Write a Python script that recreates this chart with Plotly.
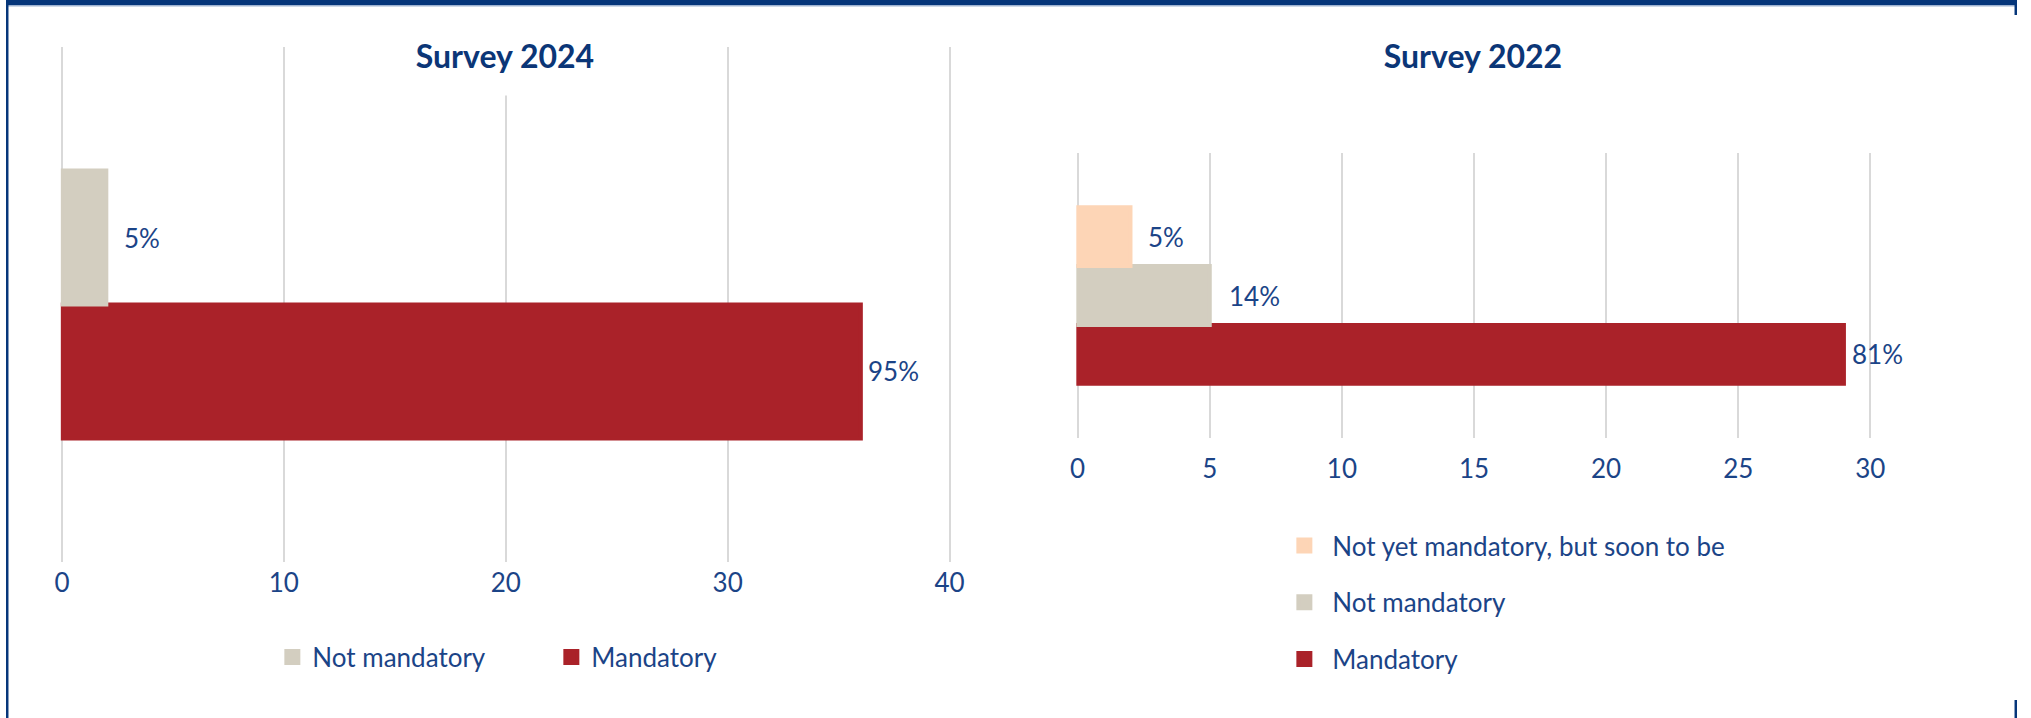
import plotly.graph_objects as go

W, H = 2031, 718

# ---- data -------------------------------------------------------------
# Survey 2024: number of respondents per answer, and the share shown
series_2024 = ["Not mandatory", "Mandatory"]
counts_2024 = [2, 36]
labels_2024 = ["5%", "95%"]
ticks_2024 = [0, 10, 20, 30, 40]

# Survey 2022
series_2022 = ["Not yet mandatory, but soon to be", "Not mandatory", "Mandatory"]
counts_2022 = [2, 5, 29]
labels_2022 = ["5%", "14%", "81%"]
ticks_2022 = [0, 5, 10, 15, 20, 25, 30]

# ---- style ------------------------------------------------------------
COLORS = {
    "Not yet mandatory, but soon to be": "#FDD5B6",
    "Not mandatory": "#D3CEC0",
    "Mandatory": "#AA2229",
}
NAVY = "#0B3677"
TEXT = "#1B4487"
GRID = "#D9D9D9"
FONT = "Lato"
BARGAP = 0.381
EDGE = 4  # same-colour outline, also enlarges the legend swatches


def fx(px):
    return px / W


def fy(px):
    return 1 - px / H


def group_centres(n):
    """Centre of each bar (bottom first) inside one category of a grouped bar."""
    width = (1 - BARGAP) / n
    return [-(1 - BARGAP) / 2 + (i + 0.5) * width for i in range(n)]


fig = go.Figure()


def add_panel(series, counts, labels, xa, ya, legend, shifts):
    n = len(series)
    # first trace sits at the bottom of the group, so draw from the bottom up
    order = list(range(n))[::-1]
    centres = group_centres(n)
    for slot, idx in enumerate(order):
        name = series[idx]
        fig.add_trace(go.Bar(
            x=[counts[idx]], y=["all"], orientation="h", name=name,
            marker=dict(color=COLORS[name], line=dict(width=EDGE, color=COLORS[name])),
            xaxis=xa, yaxis=ya, legend=legend, legendrank=idx + 1,
            legendgroup=f"{legend}-{idx}", hoverinfo="skip",
        ))
        fig.add_annotation(
            x=counts[idx], y=centres[slot], xref=xa, yref=ya,
            text=labels[idx], showarrow=False, xanchor="left", yanchor="middle",
            xshift=shifts[idx], font=dict(family=FONT, size=26, color=TEXT),
        )


add_panel(series_2024, counts_2024, labels_2024, "x", "y", "legend", [16, 5])
add_panel(series_2022, counts_2022, labels_2022, "x2", "y2", "legend2", [16, 17, 6])


def x_axis(zero_px, end_px, hi, ticks, standoff):
    pad = 0.05
    unit = (end_px - zero_px) / hi
    return dict(
        range=[-pad, hi + pad],
        domain=[fx(zero_px - pad * unit), fx(end_px + pad * unit)],
        tickvals=ticks, showgrid=True, gridcolor=GRID, gridwidth=1.5,
        zeroline=False, showline=False, ticks="",
        ticklabelstandoff=standoff,
        tickfont=dict(family=FONT, size=26, color=TEXT),
        fixedrange=True,
    )


def y_axis(top_px, bottom_px, half, anchor):
    return dict(
        domain=[fy(bottom_px), fy(top_px)], range=[-half, half],
        showticklabels=False, showgrid=False, zeroline=False, ticks="",
        anchor=anchor, fixedrange=True,
    )


fig.update_layout(
    width=W, height=H,
    margin=dict(l=0, r=0, t=0, b=0),
    paper_bgcolor="white", plot_bgcolor="rgba(0,0,0,0)",
    barmode="group", bargap=BARGAP, bargroupgap=0,
    xaxis=dict(**x_axis(56.5, 953, 40, ticks_2024, 3), anchor="y"),
    yaxis=y_axis(47, 562, 0.595, "x"),
    xaxis2=dict(**x_axis(1082.3, 1882.9, 30, ticks_2022, 13), anchor="y2"),
    yaxis2=y_axis(153, 438, 0.5, "x2"),
    legend=dict(
        orientation="h", x=fx(269), xanchor="left", y=fy(657), yanchor="middle",
        traceorder="normal", entrywidth=234, bgcolor="rgba(0,0,0,0)",
        font=dict(family=FONT, size=26, color=TEXT),
    ),
    legend2=dict(
        orientation="v", x=fx(1283), xanchor="left", y=fy(522), yanchor="top",
        traceorder="grouped", tracegroupgap=20, itemwidth=46,
        bgcolor="rgba(0,0,0,0)",
        font=dict(family=FONT, size=26, color=TEXT),
    ),
    showlegend=True,
)

# panel titles (white box keeps the centre gridline clear under the title)
for text, cx in [("Survey 2024", 504), ("Survey 2022", 1482)]:
    fig.add_annotation(
        x=fx(cx), y=fy(35), xref="paper", yref="paper",
        text=f"<b>{text}</b>", showarrow=False, xanchor="center", yanchor="top",
        width=200, height=59, valign="top", bgcolor="white", borderpad=0,
        font=dict(family=FONT, size=32, color=NAVY),
    )

# page frame: navy band on top, thin rule under it, navy edge on the left
frame = [
    (0, W, 0, 5, "#06367A"),
    (0, W, 5, 6.5, "#9FB3D1"),
    (0, 2.5, 0, H, "#06367A"),
    (2028.5, W, 5, 15, "#06367A"),
    (2028.5, W, 700, H, "#06367A"),
]
for x0, x1, y0, y1, c in frame:
    fig.add_shape(type="rect", xref="paper", yref="paper",
                  x0=fx(x0), x1=fx(x1), y0=fy(y1), y1=fy(y0),
                  fillcolor=c, line=dict(width=0), layer="above")

fig.write_html("out.html")
